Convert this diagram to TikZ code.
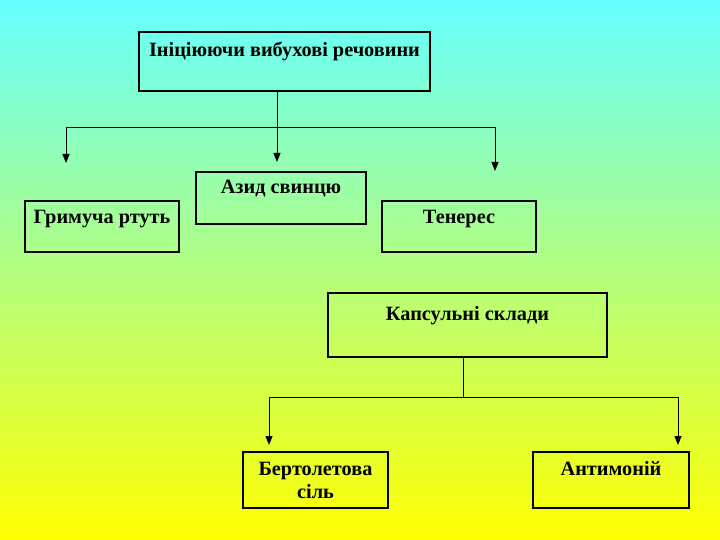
\documentclass[tikz,border=0pt]{standalone}
\usepackage{fontspec}
\setmainfont{Liberation Serif}
\usetikzlibrary{arrows.meta}
\definecolor{topcyan}{RGB}{102,255,255}
\definecolor{midgreen}{RGB}{192,255,175}
\definecolor{lowyellow}{RGB}{255,255,0}

\begin{document}
\begin{tikzpicture}[x=1pt,y=-1pt,
                    box/.style={draw,line width=1.5pt,inner sep=0pt,align=center,
                                font=\bfseries\fontsize{20.3}{23}\selectfont},
                    link/.style={line width=1pt},
                    arrow/.style={link,-{Triangle[width=7pt,length=9pt]}}]

        \useasboundingbox (0,0) rectangle (720,540);
        \shade[top color=topcyan,middle color=midgreen,bottom color=lowyellow] (0,0) rectangle (720,540);

        % Define vertices
        \node[box,minimum width=291pt,text height=25pt,text depth=34pt] (I) at (284.5,61.5) {Ініціюючи вибухові речовини};
        \node[box,minimum width=170pt,text height=22pt,text depth=30pt] (A) at (281,198) {Азид свинцю};
        \node[box,minimum width=154pt,text height=22pt,text depth=29pt] (H) at (102,226.5) {Гримуча ртуть};
        \node[box,minimum width=154pt,text height=22pt,text depth=29pt] (T) at (459,226.5) {Тенерес};
        \node[box,minimum width=279pt,text height=27pt,text depth=37pt] (K) at (467.5,325) {Капсульні склади};
        \node[box,minimum width=145pt,minimum height=56pt] (B) at (315.5,480) {Бертолетова\\сіль};
        \node[box,minimum width=156pt,text height=23pt,text depth=33pt] (S) at (611,480) {Антимоній};

        % Arrow ends
        \coordinate (top) at (277,128);
        \coordinate (ha) at (66,163);
        \coordinate (aa) at (277,162);
        \coordinate (ta) at (495,171);
        \coordinate (low) at (463,397);
        \coordinate (ba) at (269,445);
        \coordinate (sa) at (678,445);

        % Draw edges
        \draw[arrow] (I.south -| aa) -- (aa);
        \draw[arrow] (top) -| (ha);
        \draw[arrow] (top) -| (ta);
        \draw[link] (K.south -| low) -- (low);
        \draw[arrow] (low) -| (ba);
        \draw[arrow] (low) -| (sa);
\end{tikzpicture}
\end{document}
